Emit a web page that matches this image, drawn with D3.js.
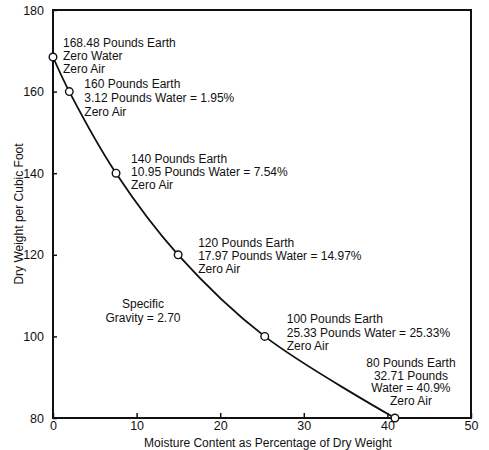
<!DOCTYPE html>
<html>
<head>
<meta charset="utf-8">
<script src="https://cdn.jsdelivr.net/npm/d3@7"></script>
<style>
  body { margin: 0; background: #fff; }
  svg { font-family: "Liberation Sans", Arial, sans-serif; }
  .note { font-size: 12px; fill: #111; }
  .tick text { font-size: 12.5px; fill: #111; }
</style>
</head>
<body>
<svg class="chart" width="489" height="450"></svg>
<script>
// moisture content (%) and dry weight (lb per cubic foot), zero air curve
const moisture = [0, 1.95, 7.54, 14.97, 25.33, 40.9];
const dryWeight = [168.48, 160, 140, 120, 100, 80];

const xTicks = [0, 10, 20, 30, 40, 50];
const yTicks = [80, 100, 120, 140, 160, 180];

// labels next to each point
const notes = [
  ["168.48 Pounds Earth", "Zero Water", "Zero Air"],
  ["160 Pounds Earth", "3.12 Pounds Water = 1.95%", "Zero Air"],
  ["140 Pounds Earth", "10.95 Pounds Water = 7.54%", "Zero Air"],
  ["120 Pounds Earth", "17.97 Pounds Water = 14.97%", "Zero Air"],
  ["100 Pounds Earth", "25.33 Pounds Water = 25.33%", "Zero Air"],
  ["80 Pounds Earth", "32.71 Pounds", "Water = 40.9%", "Zero Air"]
];

const svg = d3.select('svg.chart');

const x = d3.scaleLinear().domain([0, 50]).range([53, 471]);
const y = d3.scaleLinear().domain([80, 180]).range([418, 10]);

// frame
svg.append('rect')
  .attr('x', x(0)).attr('y', y(180))
  .attr('width', x(50) - x(0)).attr('height', y(80) - y(180))
  .attr('fill', 'none').attr('stroke', '#111').attr('stroke-width', 2);

// axes
const yAxis = svg.append('g')
  .attr('transform', `translate(${x(0)},0)`)
  .call(d3.axisLeft(y).tickValues(yTicks).tickSize(-4).tickPadding(9));

const xAxis = svg.append('g')
  .attr('transform', `translate(0,${y(80)})`)
  .call(d3.axisBottom(x).tickValues(xTicks).tickSize(-5).tickPadding(3));

[xAxis, yAxis].forEach(a => {
  a.select('.domain').remove();
  a.selectAll('.tick line').attr('stroke', '#111').attr('stroke-width', 1.5);
});

// axis titles
svg.append('text')
  .attr('transform', `translate(23,${(y(180) + y(80)) / 2}) rotate(-90)`)
  .attr('text-anchor', 'middle')
  .attr('font-size', 12)
  .attr('fill', '#111')
  .text('Dry Weight per Cubic Foot');

svg.append('text')
  .attr('x', 268).attr('y', 447)
  .attr('text-anchor', 'middle')
  .attr('font-size', 12)
  .attr('fill', '#111')
  .text('Moisture Content as Percentage of Dry Weight');

// the curve
const pts = moisture.map((m, i) => ({ m: m, w: dryWeight[i], note: notes[i] }));

const line = d3.line()
  .x(d => x(d.m))
  .y(d => y(d.w))
  .curve(d3.curveCatmullRom.alpha(0.5));

svg.append('path')
  .datum(pts)
  .attr('d', line)
  .attr('fill', 'none')
  .attr('stroke', '#111')
  .attr('stroke-width', 1.8);

svg.selectAll('circle.pt')
  .data(pts)
  .join('circle')
  .classed('pt', true)
  .attr('cx', d => x(d.m))
  .attr('cy', d => y(d.w))
  .attr('r', 3.8)
  .attr('fill', '#fff')
  .attr('stroke', '#111')
  .attr('stroke-width', 1.4);

// note placement: offset from the point, anchor
const notePos = [
  { dx: 10, dy: -10.5, anchor: 'start', lh: 13 },
  { dx: 15, dy: -4, anchor: 'start', lh: 14 },
  { dx: 15, dy: -10, anchor: 'start', lh: 13 },
  { dx: 20, dy: -8, anchor: 'start', lh: 13 },
  { dx: 22, dy: -13, anchor: 'start', lh: 13.5 },
  { dx: 16, dy: -51, anchor: 'middle', lh: 12.5 }
];

pts.forEach((d, i) => {
  const p = notePos[i];
  const t = svg.append('text')
    .classed('note', true)
    .attr('text-anchor', p.anchor)
    .attr('x', x(d.m) + p.dx)
    .attr('y', y(d.w) + p.dy);
  d.note.forEach((s, j) => {
    t.append('tspan')
      .attr('x', x(d.m) + p.dx)
      .attr('dy', j == 0 ? 0 : p.lh)
      .text(s);
  });
});

// specific gravity note
const sg = svg.append('text')
  .classed('note', true)
  .attr('text-anchor', 'middle')
  .attr('x', 143).attr('y', 308);
sg.append('tspan').attr('x', 143).text('Specific');
sg.append('tspan').attr('x', 143).attr('dy', 13.5).text('Gravity = 2.70');
</script>
</body>
</html>
